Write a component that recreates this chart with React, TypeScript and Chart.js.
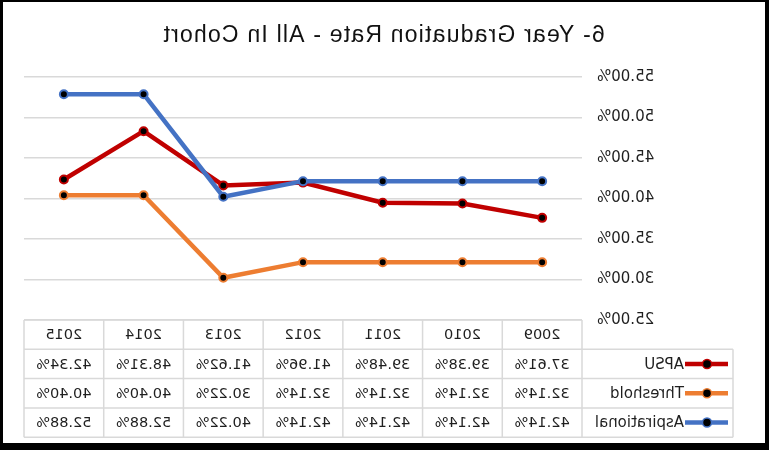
import React, { useEffect, useRef } from 'react';
import { Chart, registerables } from 'chart.js';

Chart.register(...registerables);

const TITLE = '6- Year Graduation Rate - All In Cohort';
const categories = ['2009', '2010', '2011', '2012', '2013', '2014', '2015'];
const seriesNames = ['APSU', 'Threshold', 'Aspirational'];
const apsu = [37.61, 39.38, 39.48, 41.96, 41.62, 48.31, 42.34];
const threshold = [32.14, 32.14, 32.14, 32.14, 30.22, 40.4, 40.4];
const aspirational = [42.14, 42.14, 42.14, 42.14, 40.22, 52.88, 52.88];
const seriesColors = ['#C00000', '#ED7D31', '#4472C4'];
const yMin = 25;
const yMax = 55;
const yStep = 5;

const GRID = '#d9d9d9';
const TEXT = '#1f1f1f';
const FONT = "'DejaVu Sans', sans-serif";

const pageW = 769;
const pageH = 450;

const chromePlugin = {
  id: 'chrome',
  beforeDraw(chart: any) {
    const ctx = chart.ctx;
    ctx.save();
    ctx.fillStyle = '#ffffff';
    ctx.fillRect(0, 0, chart.width, chart.height);
    ctx.restore();
  },
  afterDraw(chart: any) {
    const { ctx, chartArea, scales } = chart;
    const x = scales.x;
    const step = x.getPixelForValue(1) - x.getPixelForValue(0);
    const colLeft = chartArea.left;
    const colRight = chartArea.right;
    const legLeft = colLeft - 151;
    const top = chartArea.bottom;
    const rowH = 29.3;
    const rows = [top, top + rowH, top + 2 * rowH, top + 3 * rowH, top + 4 * rowH];
    const data = [apsu, threshold, aspirational];

    ctx.save();
    // title
    ctx.fillStyle = '#111111';
    ctx.font = "23px 'Liberation Sans', Arial, sans-serif";
    ctx.textAlign = 'center';
    ctx.textBaseline = 'middle';
    try { (ctx as any).letterSpacing = '1.2px'; } catch (e) {}
    ctx.fillText(TITLE, chart.width / 2 + 1, 36);
    try { (ctx as any).letterSpacing = '0px'; } catch (e) {}

    // table grid
    ctx.strokeStyle = GRID;
    ctx.lineWidth = 1.5;
    ctx.beginPath();
    ctx.moveTo(colLeft, rows[0]);
    ctx.lineTo(colRight, rows[0]);
    for (let r = 1; r < rows.length; r++) {
      ctx.moveTo(legLeft, rows[r]);
      ctx.lineTo(colRight, rows[r]);
    }
    ctx.moveTo(legLeft, rows[1]);
    ctx.lineTo(legLeft, rows[4]);
    for (let i = 0; i <= categories.length; i++) {
      const px = colLeft + i * step;
      ctx.moveTo(px, rows[0]);
      ctx.lineTo(px, rows[4]);
    }
    ctx.stroke();

    // header
    ctx.fillStyle = TEXT;
    ctx.font = `14.5px ${FONT}`;
    ctx.textAlign = 'center';
    ctx.textBaseline = 'middle';
    categories.forEach((c, i) => {
      ctx.fillText(c, x.getPixelForValue(i), (rows[0] + rows[1]) / 2 + 1);
    });
    data.forEach((arr, r) => {
      const cy = (rows[r + 1] + rows[r + 2]) / 2 + 1;
      arr.forEach((v, i) => {
        ctx.fillText(v.toFixed(2) + '%', x.getPixelForValue(i), cy);
      });
      // legend key
      ctx.strokeStyle = seriesColors[r];
      ctx.lineWidth = 4.5;
      ctx.beginPath();
      ctx.moveTo(legLeft + 5, cy - 1);
      ctx.lineTo(legLeft + 48, cy - 1);
      ctx.stroke();
      ctx.beginPath();
      ctx.arc(legLeft + 26, cy - 1, 4.5, 0, Math.PI * 2);
      ctx.fillStyle = '#000000';
      ctx.fill();
      ctx.lineWidth = 1.5;
      ctx.stroke();
      ctx.fillStyle = TEXT;
      ctx.font = `15px ${FONT}`;
      ctx.textAlign = 'left';
      ctx.fillText(seriesNames[r], legLeft + 49, cy);
      ctx.font = `14.5px ${FONT}`;
      ctx.textAlign = 'center';
    });

    // frame
    ctx.fillStyle = '#000000';
    ctx.fillRect(0, 0, 4, pageH);
    ctx.fillRect(pageW - 3, 0, 3, pageH);
    ctx.fillRect(0, 0, pageW, 2);
    ctx.fillRect(0, pageH - 7, pageW, 7);
    ctx.restore();
  },
};

export default function App() {
  const ref = useRef<HTMLCanvasElement>(null);
  useEffect(() => {
    if (!ref.current) return;
    const mk = (label: string, data: number[], color: string, order: number) => ({
      label,
      data,
      borderColor: color,
      backgroundColor: color,
      borderWidth: 4.5,
      pointRadius: 4,
      pointBorderWidth: 2,
      pointBackgroundColor: '#000000',
      pointBorderColor: color,
      tension: 0,
      order,
    });
    const chart = new Chart(ref.current, {
      type: 'line',
      data: {
        labels: categories,
        datasets: [
          mk(seriesNames[0], apsu, seriesColors[0], 3),
          mk(seriesNames[1], threshold, seriesColors[1], 2),
          mk(seriesNames[2], aspirational, seriesColors[2], 1),
        ],
      },
      options: {
        responsive: false,
        animation: false,
        devicePixelRatio: 1,
        layout: { padding: { top: 77, right: 24, bottom: 130, left: 0 } },
        plugins: {
          legend: { display: false },
          title: { display: false },
          tooltip: { enabled: false },
        },
        scales: {
          x: {
            type: 'category',
            display: false,
            offset: true,
            grid: { display: false },
          },
          y: {
            min: yMin,
            max: yMax,
            border: { display: false },
            grid: { color: GRID, lineWidth: 1.5, drawTicks: false },
            ticks: {
              stepSize: yStep,
              padding: 15,
              color: TEXT,
              font: { family: FONT, size: 15 },
              callback: (v: any) => Number(v).toFixed(2) + '%',
            },
            afterFit: (s: any) => {
              s.width = 187;
            },
          },
        },
      },
      plugins: [chromePlugin],
    } as any);
    return () => chart.destroy();
  }, []);
  return (
    <div style={{ position: 'absolute', left: 0, top: 0, width: pageW, height: pageH, transform: 'scaleX(-1)' }}>
      <canvas ref={ref} width={pageW} height={pageH} style={{ display: 'block', width: pageW, height: pageH }} />
    </div>
  );
}
